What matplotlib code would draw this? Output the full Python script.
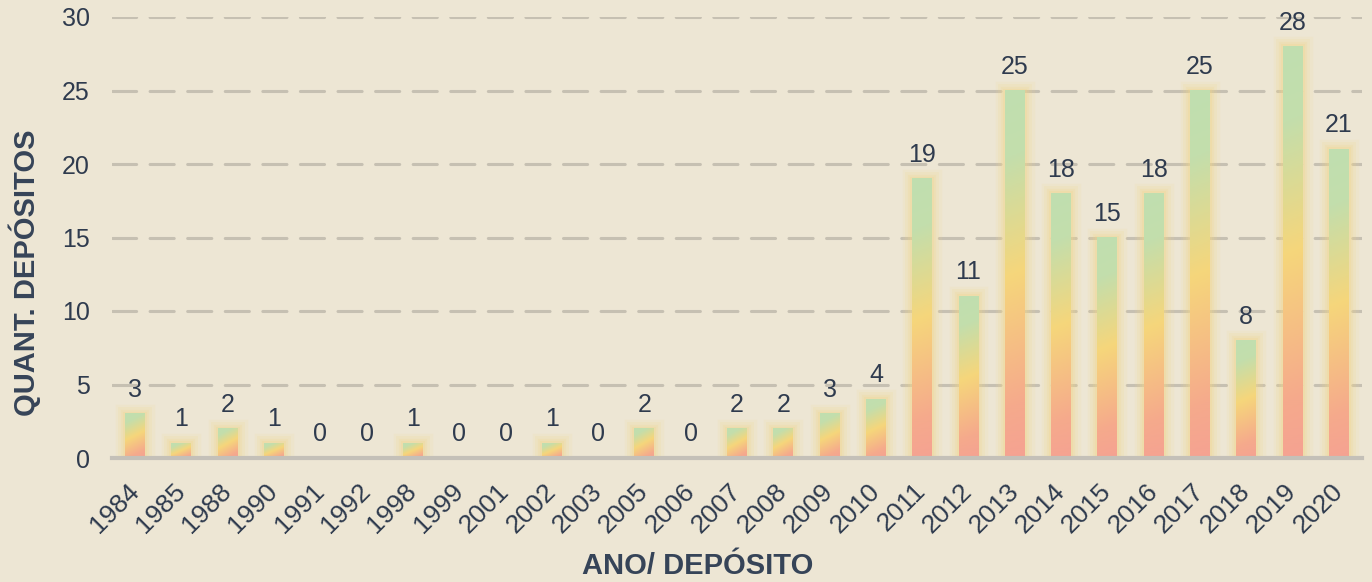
import numpy as np
import matplotlib.pyplot as plt
from matplotlib.colors import LinearSegmentedColormap

plt.rcParams['font.family'] = ['Liberation Sans', 'DejaVu Sans']

anos = ['1984', '1985', '1988', '1990', '1991', '1992', '1998', '1999', '2001',
        '2002', '2003', '2005', '2006', '2007', '2008', '2009', '2010', '2011',
        '2012', '2013', '2014', '2015', '2016', '2017', '2018', '2019', '2020']
depositos = [3, 1, 2, 1, 0, 0, 1, 0, 0, 1, 0, 2, 0, 2, 2, 3, 4, 19,
             11, 25, 18, 15, 18, 25, 8, 28, 21]

fundo = '#EDE6D4'
texto = '#2F3B4E'
grade = '#C6C0B2'

fig = plt.figure(figsize=(13.72, 5.82), dpi=100, facecolor=fundo)
ax = fig.add_axes([112/1372, 1-458/582, 1250/1372, 441/582])
ax.set_facecolor(fundo)

x = np.arange(len(anos))
v = np.array(depositos)
larg = 0.43

# brilho amarelado em volta das barras
m = v > 0
for lw, a in [(14, 0.12), (10, 0.15), (6, 0.2), (3, 0.25)]:
    ax.bar(x[m], v[m], larg, color='none', edgecolor='#F2D78A', linewidth=lw,
           alpha=a, zorder=2)

# gradiente de cada barra
cmap = LinearSegmentedColormap.from_list(
    'grad', [(0, '#F5A292'), (0.15, '#F5AA8C'), (0.5, '#F6D67B'),
             (0.82, '#C3DEAC'), (1, '#C0DFB0')])
yy, xx = np.mgrid[0:1:200j, 0:1:20j]
for xi, vi in zip(x, v):
    if vi <= 0:
        continue
    asp = min(1.0, 1.5 / vi)
    t = yy * (1 - 0.35 * asp) + (1 - xx) * 0.35 * asp
    ax.imshow(t, cmap=cmap, vmin=0, vmax=1, origin='lower', aspect='auto',
              extent=[xi - larg/2, xi + larg/2, 0, vi], zorder=3,
              interpolation='bilinear')

for xi, vi in zip(x, v):
    ax.annotate(str(vi), (xi, vi), xytext=(0, 8.5), textcoords='offset points',
                ha='center', va='bottom', fontsize=18, color=texto, zorder=5)

ax.set_xlim(-0.5, len(anos) - 0.5)
ax.set_ylim(0, 30)
ax.set_yticks(range(0, 31, 5))
ax.set_xticks(x)
ax.set_xticklabels(anos, rotation=45, ha='right', va='center', rotation_mode='anchor')
ax.tick_params(axis='both', length=0, labelsize=18, labelcolor=texto)
ax.tick_params(axis='x', labelsize=19, pad=21)
ax.tick_params(axis='y', pad=16)

ax.yaxis.grid(True, color=grade, linewidth=2.2, linestyle=(0, (7.9, 4.4)),
              dash_capstyle='round', zorder=1)
ax.set_axisbelow(True)
for s in ax.spines.values():
    s.set_visible(False)
ax.axhline(0, color='#C4C0B8', linewidth=3, zorder=4, clip_on=False)

fig.text(698/1372, 1-566/582, 'ANO/ DEPÓSITO', ha='center', va='center',
         fontsize=21, fontweight='bold', color='#364458')
fig.text(25/1372, 1-273/582, 'QUANT. DEPÓSITOS', ha='center', va='center',
         rotation=90, fontsize=21, fontweight='bold', color='#364458')

fig.savefig('out.png', dpi=100, facecolor=fundo)
